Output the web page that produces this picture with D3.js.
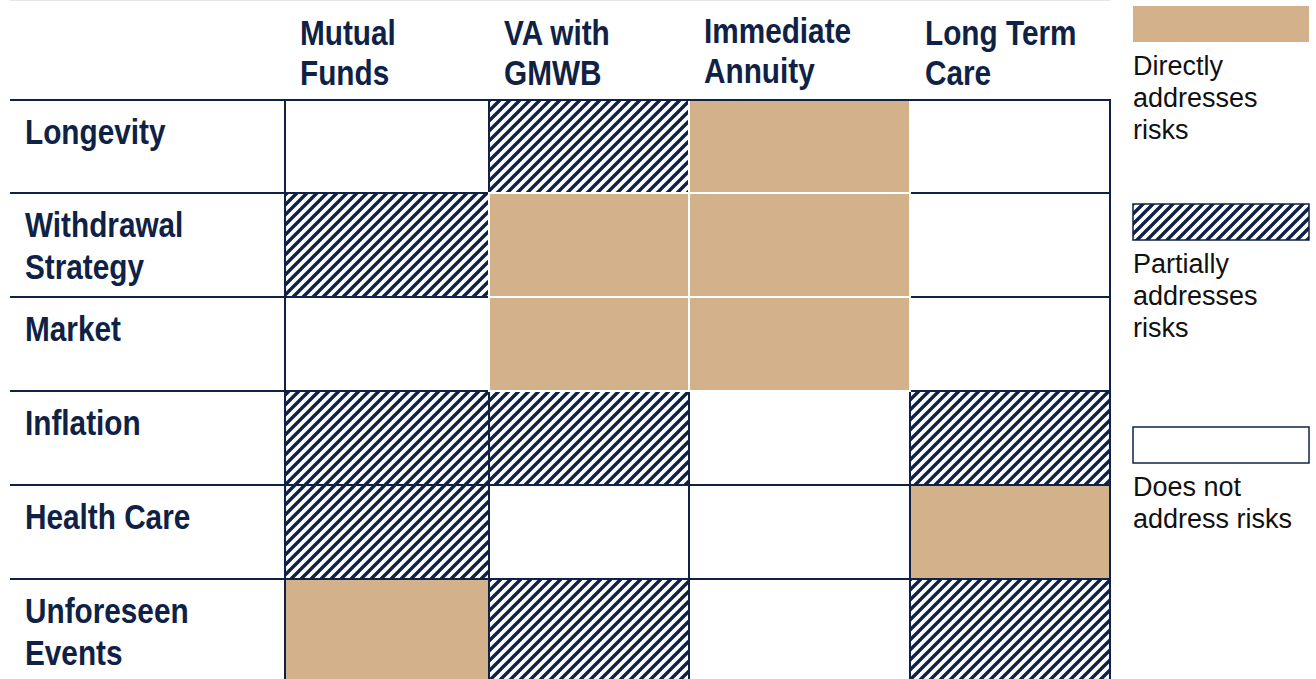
<!DOCTYPE html>
<html lang="en">
  <head>
    <meta charset="utf-8" />
    <title>Retirement products and the risks they address</title>
    <script src="https://d3js.org/d3.v7.min.js"></script>
    <style>
      body {
        margin: 0;
        background: white;
      }
      .head {
        font-family: "Liberation Sans", Arial, sans-serif;
        font-weight: bold;
        font-size: 35px;
        fill: #0f2246;
      }
      .legend text {
        font-family: "Liberation Sans", Arial, sans-serif;
        font-size: 27px;
        fill: #111;
      }
      .grid line {
        stroke: #0f2246;
        stroke-width: 2;
      }
    </style>
  </head>
  <body>
    <svg width="1316" height="679"></svg>
    <script type="text/javascript">
      // products (columns), split over two lines
      const products = [
        ["Mutual", "Funds"],
        ["VA with", "GMWB"],
        ["Immediate", "Annuity"],
        ["Long Term", "Care"],
      ];

      // risks (rows)
      const risks = [
        ["Longevity"],
        ["Withdrawal", "Strategy"],
        ["Market"],
        ["Inflation"],
        ["Health Care"],
        ["Unforeseen", "Events"],
      ];

      // how each product handles each risk, one row per risk
      const ratings = [
        ["none", "partial", "direct", "none"],
        ["partial", "direct", "direct", "none"],
        ["none", "direct", "direct", "none"],
        ["partial", "partial", "none", "partial"],
        ["partial", "none", "none", "direct"],
        ["direct", "partial", "none", "partial"],
      ];

      const levels = ["direct", "partial", "none"];
      const levelLabels = [
        ["Directly", "addresses", "risks"],
        ["Partially", "addresses", "risks"],
        ["Does not", "address risks"],
      ];

      const navy = "#0f2246";
      const tan = "#d3b18a";
      const narrow = 0.85; // no narrow font installed, squeeze a regular bold one

      const svg = d3.select("svg");

      // table geometry (cells are not all the same size)
      const colEdges = [285, 489, 689, 910, 1110];
      const rowEdges = [100, 193, 297, 391, 485, 579, 679];
      const x = d3.scaleOrdinal().domain(d3.range(5)).range(colEdges);
      const y = d3.scaleOrdinal().domain(d3.range(7)).range(rowEdges);
      const labelLeft = 10;

      const fill = d3
        .scaleOrdinal()
        .domain(levels)
        .range([tan, "url(#hatch)", "white"]);

      // diagonal hatch for "partially"
      const defs = svg.append("defs");
      const pat = defs
        .append("pattern")
        .attr("id", "hatch")
        .attr("patternUnits", "userSpaceOnUse")
        .attr("width", 10)
        .attr("height", 10);
      pat.append("rect").attr("width", 10).attr("height", 10).attr("fill", "white");
      pat
        .append("path")
        .attr("d", "M-1,1 l2,-2 M0,10 l10,-10 M9,11 l2,-2")
        .attr("stroke", navy)
        .attr("stroke-width", 3.4);

      const cells = [];
      ratings.forEach((row, r) => {
        row.forEach((level, c) => {
          cells.push({ r, c, level });
        });
      });
      // tan cells touching another tan cell are merged with white seams
      const isDirect = (r, c) => ratings[r] && ratings[r][c] === "direct";
      cells.forEach((d) => {
        d.joined =
          d.level === "direct" &&
          (isDirect(d.r - 1, d.c) ||
            isDirect(d.r + 1, d.c) ||
            isDirect(d.r, d.c - 1) ||
            isDirect(d.r, d.c + 1));
      });

      // faint top rule
      svg
        .append("line")
        .attr("x1", labelLeft)
        .attr("x2", x(4))
        .attr("y1", 0.5)
        .attr("y2", 0.5)
        .attr("stroke", "#e6e6e6");

      svg
        .append("g")
        .selectAll("rect")
        .data(cells)
        .join("rect")
        .attr("x", (d) => x(d.c))
        .attr("y", (d) => y(d.r))
        .attr("width", (d) => x(d.c + 1) - x(d.c))
        .attr("height", (d) => y(d.r + 1) - y(d.r))
        .attr("fill", (d) => fill(d.level));

      const grid = svg.append("g").attr("class", "grid");
      grid
        .selectAll(".h")
        .data(d3.range(6))
        .join("line")
        .attr("class", "h")
        .attr("x1", labelLeft)
        .attr("x2", x(4) + 1)
        .attr("y1", (d) => y(d))
        .attr("y2", (d) => y(d));
      grid
        .selectAll(".v")
        .data(d3.range(5))
        .join("line")
        .attr("class", "v")
        .attr("x1", (d) => x(d))
        .attr("x2", (d) => x(d))
        .attr("y1", y(0))
        .attr("y2", y(6));

      svg
        .append("g")
        .selectAll("rect")
        .data(cells.filter((d) => d.joined))
        .join("rect")
        .attr("x", (d) => x(d.c))
        .attr("y", (d) => y(d.r))
        .attr("width", (d) => x(d.c + 1) - x(d.c))
        .attr("height", (d) => y(d.r + 1) - y(d.r))
        .attr("fill", tan)
        .attr("stroke", "white")
        .attr("stroke-width", 2);

      // header rule stays on top
      svg
        .append("line")
        .attr("x1", labelLeft)
        .attr("x2", x(4) + 1)
        .attr("y1", y(0))
        .attr("y2", y(0))
        .attr("stroke", navy)
        .attr("stroke-width", 2);

      // multi-line condensed label at (tx, ty)
      function label(sel, tx, ty, gap) {
        sel
          .attr("class", "head")
          .attr("transform", (d, i) => `translate(${tx(d, i)},${ty(d, i)}) scale(${narrow},1)`)
          .selectAll("tspan")
          .data((d) => d)
          .join("tspan")
          .attr("x", 0)
          .attr("dy", (d, i) => (i === 0 ? 0 : gap))
          .text((d) => d);
      }

      // column headers
      svg
        .append("g")
        .selectAll("text")
        .data(products)
        .join("text")
        .call(label, (d, i) => x(i) + 15, (d, i) => (i === 2 ? 43 : 45), 40);

      // row labels
      svg
        .append("g")
        .selectAll("text")
        .data(risks)
        .join("text")
        .call(label, () => 25, (d, i) => y(i) + 44, 42);

      // legend
      const legendTop = d3.scaleOrdinal().domain(levels).range([6, 204, 427]);
      const legend = svg
        .append("g")
        .attr("class", "legend")
        .selectAll("g")
        .data(levels)
        .join("g")
        .attr("transform", (d) => `translate(1133,${legendTop(d)})`);
      legend
        .append("rect")
        .attr("width", 176)
        .attr("height", 36)
        .attr("fill", (d) => fill(d))
        .attr("stroke", (d) => (d === "direct" ? "none" : navy))
        .attr("stroke-width", 1.5);
      legend
        .append("text")
        .attr("y", 69)
        .selectAll("tspan")
        .data((d, i) => levelLabels[i])
        .join("tspan")
        .attr("x", 0)
        .attr("dy", (d, i) => (i === 0 ? 0 : 32))
        .text((d) => d);
    </script>
  </body>
</html>
